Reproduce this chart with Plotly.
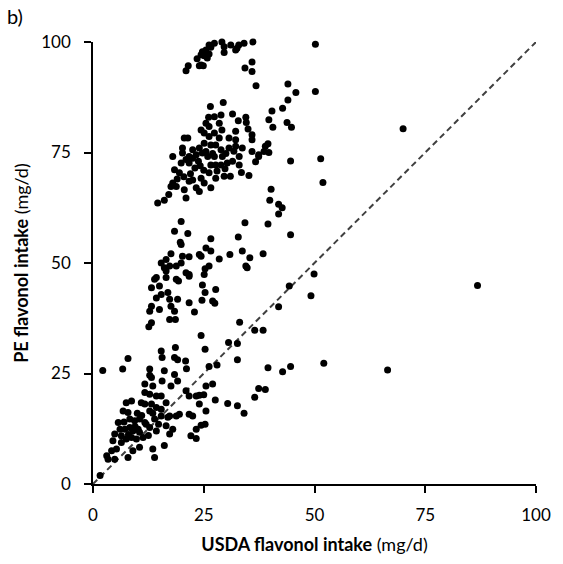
import plotly.graph_objects as go

# USDA (x) vs PE (y) flavonol intake, mg/d
top_x = [21.0,21.5,24.0,24.9,24.4,24.7,25.5,26.2,27.4,29.1,29.6,29.6,31.1,32.5,32.9,34.1,36.1,35.9,34.3,35.9,36.8,23.5,25.1,26.2,26.6,24.4,25.8,32.2,50.2,44.0,45.8,50.2]
top_y = [93.5,94.6,94.6,94.6,97.1,97.8,98.2,99.3,99.7,100.0,98.9,97.6,99.3,98.6,99.3,99.7,100.0,95.5,94.1,93.3,90.1,96.2,96.9,97.3,98.8,94.8,96.4,98.2,99.5,90.5,88.6,88.8]

high_x = [44.0,42.8,40.4,39.7,40.6,43.8,44.8,39.5,38.9,38.6,39.7,37.4,44.6,51.4,51.9,70.0,40.2,39.9,41.9,42.7,41.9,
          14.6,16.1,21.0,17.1,18.0,17.6,18.8,18.4,19.5,19.9,21.0,21.7,22.5,23.3,18.0,20.2,24.7,25.9,26.6,27.7,28.9,30.3,31.5,33.0,
          26.2,27.7,29.6,22.5,24.4,21.7,25.1,23.3,26.6,24.0,20.6,35.9,
          26.5,29.4,31.5,26.1,27.4,28.9,34.5,25.5,26.2,28.5,29.1,32.8,34.6,35.0,32.2,24.4,25.1,26.2,27.4,28.5,30.7,32.2,35.9,35.9,
          20.6,21.4,25.1,26.6,27.7,24.0,20.2,22.5,25.5,28.9,30.7,32.2,33.7,37.4,21.7,27.4,29.2,33.0,
          33.5,35.2,31.0,36.7,23.0,24.2,22.0,20.5,19.0,23.8,25.0,27.0,30.0,31.8,29.8,28.0]
high_y = [86.9,85.0,84.4,82.4,80.7,81.8,80.7,77.0,76.4,75.2,75.0,74.1,73.1,73.6,68.2,80.4,66.7,64.2,63.3,62.5,61.1,
          63.6,64.2,64.7,65.5,68.1,67.3,67.3,71.1,70.4,72.6,73.4,72.6,73.7,74.5,74.1,74.9,74.9,74.1,72.2,72.2,72.2,72.6,73.0,72.2,
          70.4,69.2,69.6,68.8,69.2,68.5,68.1,67.0,67.0,66.2,66.6,75.2,
          85.4,86.3,83.7,83.0,83.1,83.5,83.0,81.6,80.9,81.6,80.1,82.2,81.8,80.3,79.8,80.1,79.4,78.6,79.4,78.3,78.3,77.9,79.0,77.9,
          78.3,78.3,77.1,76.7,76.7,76.0,76.0,75.6,75.2,75.6,76.0,76.4,76.0,74.5,74.1,74.1,74.1,74.1,
          70.5,69.8,69.6,72.9,71.5,72.0,70.2,69.5,69.0,73.0,71.0,74.8,74.8,75.3,71.3,70.8]

mid_x = [19.9,18.4,21.4,34.3,32.8,26.6,19.9,19.7,25.5,17.6,20.2,21.7,24.0,15.4,16.5,17.3,18.8,19.9,16.1,21.0,21.7,14.3,16.5,18.8,
         24.4,26.6,30.9,33.7,35.4,38.4,28.5,26.2,25.3,25.1,34.5,34.8,24.7,25.3,27.7,24.6,27.0,27.5,44.3,41.9,33.1,36.5,38.4,24.4,
         39.5,44.6,49.9,49.2,86.8,
         16.5,13.9,13.2,15.0,15.4,16.9,17.3,14.3,13.2,12.8,15.0,17.6,18.4,19.1,21.7,22.9,17.3,18.6,13.2,12.6,19.3,21.7]
mid_y = [59.4,57.2,56.7,59.1,55.9,55.5,54.2,54.7,53.4,52.1,51.5,51.4,51.9,50.0,50.8,49.3,49.3,50.0,48.9,47.8,47.0,46.7,46.7,46.3,
         51.5,52.7,51.9,52.7,51.2,52.1,50.9,49.3,48.7,47.4,49.3,48.9,45.0,43.3,44.0,41.6,41.4,40.9,44.8,40.1,36.6,34.8,34.8,33.6,
         58.8,56.4,47.5,42.6,44.9,
         48.2,46.3,44.4,44.8,42.9,43.3,41.8,42.1,40.2,39.1,39.5,40.2,39.1,41.8,41.0,38.9,37.2,37.2,36.5,35.6,45.9,47.4]

low_x = [30.6,32.6,25.3,32.6,26.2,28.0,39.5,42.8,44.6,52.1,66.5,25.5,27.0,24.0,25.0,37.4,38.9,36.5,27.6,30.4,32.6,34.1,24.0,25.5,24.4,25.3,
         15.4,15.6,18.6,18.4,19.1,20.9,21.1,7.9,6.7,2.2,12.8,16.1,18.4,12.8,
         13.2,19.1,15.6,11.7,13.5,17.6,11.7,12.8,14.3,15.4,21.0,21.7,23.3,7.5,8.7,10.9,11.7,13.2,16.5,14.3,15.4,12.8,6.8,7.9,
         8.3,9.4,10.5,11.7,13.9,15.4,17.3,18.8,19.5,16.9,21.7,22.5,5.7,6.1,7.2,8.3,9.0,10.2,10.5,12.0,12.8,14.3,16.5,18.0,23.3,
         22.1,23.3,4.9,6.4,7.5,8.7,9.8,11.3,6.4,4.5,5.3,4.2,3.1,3.4,4.9,7.9,9.0,10.5,13.5,13.9,16.1,17.3,1.6,
         9.5,11.0,10.0,12.5,8.0,13.5,14.8,7.0]
low_y = [32.0,31.8,30.5,28.1,26.6,26.9,26.3,25.4,26.6,27.3,25.8,22.2,22.6,20.1,20.2,21.6,21.4,19.6,19.0,18.2,17.7,16.0,18.1,16.5,13.3,13.5,
         30.1,28.6,30.9,28.6,28.1,27.8,26.1,28.4,26.0,25.7,26.0,25.6,24.8,24.6,
         24.1,23.3,23.3,22.6,22.2,22.2,20.7,20.3,19.9,19.9,21.1,19.9,19.9,18.4,18.8,18.4,18.1,18.1,18.4,17.3,16.9,16.5,16.5,16.2,
         14.7,14.3,14.7,13.9,14.7,15.4,15.4,15.4,15.8,15.1,15.8,15.4,13.9,12.4,12.4,12.8,12.0,12.4,11.7,13.5,12.8,12.0,13.2,12.4,12.4,
         10.9,10.3,11.3,10.9,10.2,10.5,10.2,10.5,9.4,9.8,7.9,7.5,6.4,5.6,5.6,6.0,7.5,8.3,7.9,6.0,8.7,11.3,1.9,
         13.0,15.5,16.0,11.0,11.2,16.0,13.5,14.0]

usda = top_x + high_x + mid_x + low_x
pe = top_y + high_y + mid_y + low_y

line_range = [0, 100]
x_ticks = [0, 25, 50, 75, 100]
y_ticks = [0, 25, 50, 75, 100]

FONT = "Lato, 'Open Sans', sans-serif"

fig = go.Figure()
fig.add_trace(go.Scatter(x=line_range, y=line_range, mode="lines",
                         line=dict(color="#404040", width=2, dash="6px,4px"),
                         hoverinfo="skip", showlegend=False))
fig.add_trace(go.Scatter(x=usda, y=pe, mode="markers",
                         marker=dict(color="black", size=7, line=dict(width=0)),
                         cliponaxis=False, showlegend=False))

axis_common = dict(range=[0, 100], showline=True, linecolor="black", linewidth=1.5,
                   ticks="outside", ticklen=7, tickwidth=1.5, tickcolor="black",
                   showgrid=False, zeroline=False,
                   tickfont=dict(family=FONT, size=17, color="black"))

fig.update_layout(
    width=563, height=564,
    margin=dict(l=93, r=24, t=42, b=79),
    plot_bgcolor="white", paper_bgcolor="white",
    font=dict(family=FONT, color="black"),
    xaxis=dict(**axis_common, tickvals=x_ticks, ticklabelstandoff=8,
               title=dict(text="<b>USDA flavonol intake</b> (mg/d)",
                          font=dict(family=FONT, size=18, color="black"), standoff=14)),
    yaxis=dict(**axis_common, tickvals=y_ticks, ticklabelstandoff=10,
               title=dict(text="<b>PE flavonol intake</b> (mg/d)",
                          font=dict(family=FONT, size=18, color="black"), standoff=8)),
    annotations=[dict(text="b)", xref="paper", yref="paper", x=-89/446, y=1 + 26/443,
                      xanchor="left", yanchor="middle", showarrow=False,
                      font=dict(family=FONT, size=20, color="black"))],
)

fig.write_html("out.html")
